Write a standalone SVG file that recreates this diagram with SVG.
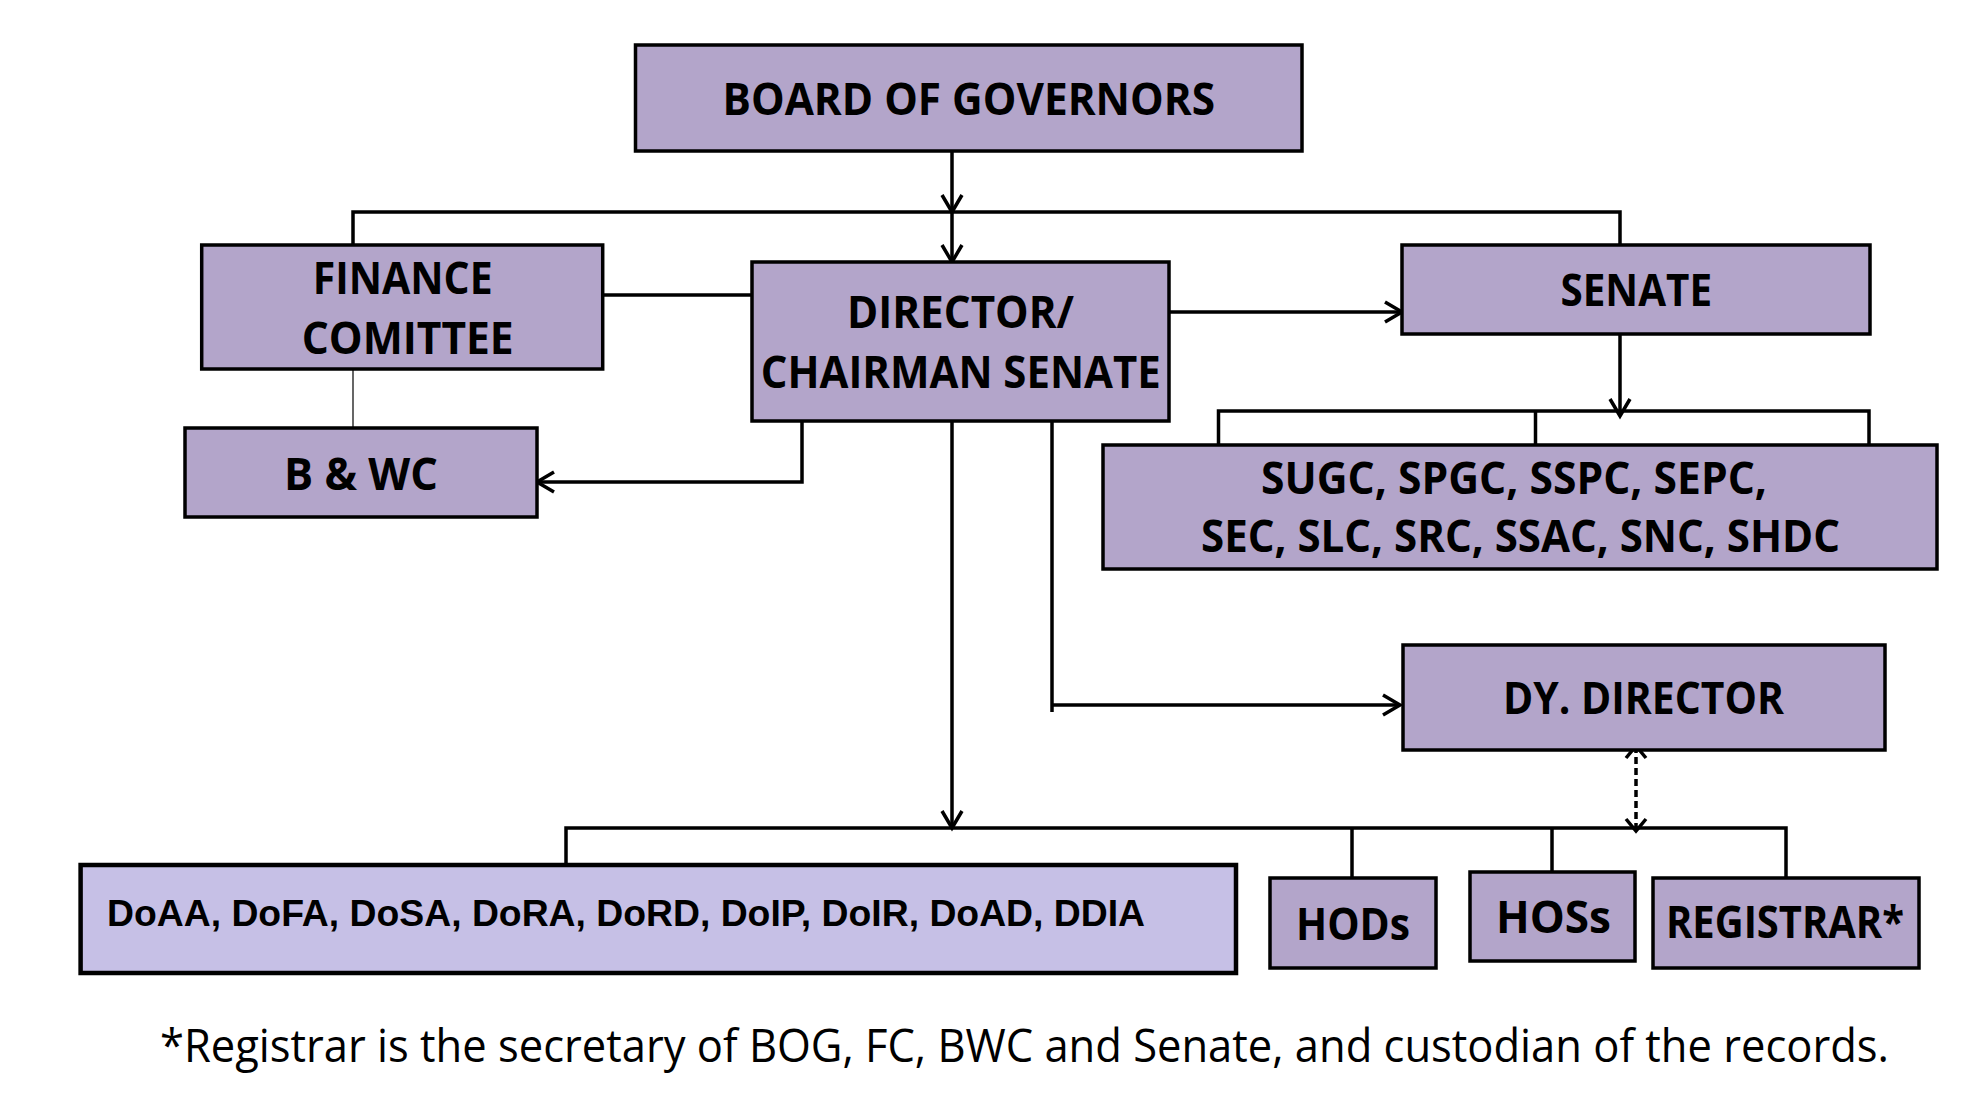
<svg xmlns="http://www.w3.org/2000/svg" width="1972" height="1109" viewBox="0 0 1972 1109">
<defs>
<style>
.box{fill:#B3A5CA;stroke:#000;stroke-width:3.5}
.box2{fill:#C6C0E6;stroke:#000;stroke-width:4.5}
.t{font-family:"Open Sans","Noto Sans","DejaVu Sans",sans-serif;font-weight:700;font-size:45px;fill:#000}
.ta{font-family:"Liberation Sans",Arial,sans-serif;font-weight:700;font-size:36px;fill:#000}
.tn{font-family:"Open Sans","Noto Sans","DejaVu Sans",sans-serif;font-weight:400;font-size:45px;fill:#000}
.c{fill:none;stroke:#000;stroke-width:3.5}
.thin{fill:none;stroke:#000;stroke-width:1.2}
.dash{fill:none;stroke:#000;stroke-width:3.5;stroke-dasharray:7 4}
</style>
<marker id="arr" markerUnits="userSpaceOnUse" viewBox="-20 -12 22 24" refX="0" refY="0" markerWidth="22" markerHeight="24" orient="auto" overflow="visible">
<path d="M-17,-10 L0,0 L-17,10" fill="none" stroke="#000" stroke-width="3.5"/>
</marker>
<marker id="arr2" markerUnits="userSpaceOnUse" viewBox="-16 -12 18 24" refX="0" refY="0" markerWidth="18" markerHeight="24" orient="auto-start-reverse" overflow="visible">
<path d="M-12,-10 L0,0 L-12,10" fill="none" stroke="#000" stroke-width="3.5"/>
</marker>
</defs>
<rect width="1972" height="1109" fill="#fff"/>
<g id="connectors">
<line class="c" x1="952" y1="146" x2="952" y2="212" marker-end="url(#arr)"/>
<line class="c" x1="952" y1="212" x2="952" y2="262" marker-end="url(#arr)"/>
<polyline class="c" points="353,245 353,212 1620,212 1620,245"/>
<line class="c" x1="603" y1="295" x2="752" y2="295"/>
<line class="thin" x1="353" y1="369" x2="353" y2="428"/>
<polyline class="c" points="802,412 802,482 537,482" marker-end="url(#arr)"/>
<line class="c" x1="1169" y1="312" x2="1402" y2="312" marker-end="url(#arr)"/>
<line class="c" x1="1620" y1="334" x2="1620" y2="416" marker-end="url(#arr)"/>
<polyline class="c" points="1218.5,445 1218.5,411 1869,411 1869,445"/>
<line class="c" x1="1535.5" y1="411" x2="1535.5" y2="445"/>
<line class="c" x1="952" y1="412" x2="952" y2="828" marker-end="url(#arr)"/>
<line class="c" x1="1052" y1="412" x2="1052" y2="712"/>
<line class="c" x1="1052" y1="705" x2="1400" y2="705" marker-end="url(#arr)"/>
<polyline class="c" points="566,866 566,828 1786,828 1786,878"/>
<line class="c" x1="1352" y1="828" x2="1352" y2="878"/>
<line class="c" x1="1552" y1="828" x2="1552" y2="872"/>
<line class="dash" x1="1636" y1="746" x2="1636" y2="831" marker-start="url(#arr2)" marker-end="url(#arr2)"/>
</g>
<g id="bog">
<rect class="box" x="635.5" y="45" width="666.5" height="106"/>
<text class="t" x="722.5" y="115" textLength="492.5" lengthAdjust="spacingAndGlyphs">BOARD OF GOVERNORS</text>
</g>
<g id="finance">
<rect class="box" x="201.7" y="245" width="401" height="124"/>
<text class="t" x="312.7" y="294" textLength="180" lengthAdjust="spacingAndGlyphs">FINANCE</text>
<text class="t" x="301.7" y="354" textLength="212" lengthAdjust="spacingAndGlyphs">COMITTEE</text>
</g>
<g id="bwc">
<rect class="box" x="185" y="428" width="352" height="89"/>
<text class="t" x="284" y="490" textLength="154" lengthAdjust="spacingAndGlyphs">B &amp; WC</text>
</g>
<g id="director">
<rect class="box" x="752" y="262" width="417" height="159"/>
<text class="t" x="847" y="328" textLength="227" lengthAdjust="spacingAndGlyphs">DIRECTOR/</text>
<text class="t" x="760.7" y="388" textLength="400" lengthAdjust="spacingAndGlyphs">CHAIRMAN SENATE</text>
</g>
<g id="senate">
<rect class="box" x="1402" y="245" width="468" height="89"/>
<text class="t" x="1560.5" y="306" textLength="151.5" lengthAdjust="spacingAndGlyphs">SENATE</text>
</g>
<g id="committees">
<rect class="box" x="1103" y="445" width="834" height="124"/>
<text class="t" x="1261" y="494" textLength="506" lengthAdjust="spacingAndGlyphs">SUGC, SPGC, SSPC, SEPC,</text>
<text class="t" x="1201" y="552" textLength="639" lengthAdjust="spacingAndGlyphs">SEC, SLC, SRC, SSAC, SNC, SHDC</text>
</g>
<g id="dydirector">
<rect class="box" x="1403" y="645" width="482" height="105"/>
<text class="t" x="1503" y="714" textLength="281" lengthAdjust="spacingAndGlyphs">DY. DIRECTOR</text>
</g>
<g id="deans">
<rect class="box2" x="80.6" y="865" width="1155.4" height="108"/>
<text class="ta" x="107" y="926" textLength="1038" lengthAdjust="spacingAndGlyphs">DoAA, DoFA, DoSA, DoRA, DoRD, DoIP, DoIR, DoAD, DDIA</text>
</g>
<g id="hods">
<rect class="box" x="1270" y="878" width="166" height="90"/>
<text class="t" x="1296" y="940" textLength="114" lengthAdjust="spacingAndGlyphs">HODs</text>
</g>
<g id="hoss">
<rect class="box" x="1470" y="872" width="165" height="89"/>
<text class="t" x="1496" y="933" textLength="115" lengthAdjust="spacingAndGlyphs">HOSs</text>
</g>
<g id="registrar">
<rect class="box" x="1653" y="878" width="266" height="90"/>
<text class="t" x="1666" y="938" textLength="238" lengthAdjust="spacingAndGlyphs">REGISTRAR*</text>
</g>
<g id="footnote">
<text class="tn" x="160" y="1062" textLength="1729" lengthAdjust="spacingAndGlyphs">*Registrar is the secretary of BOG, FC, BWC and Senate, and custodian of the records.</text>
</g>
</svg>
